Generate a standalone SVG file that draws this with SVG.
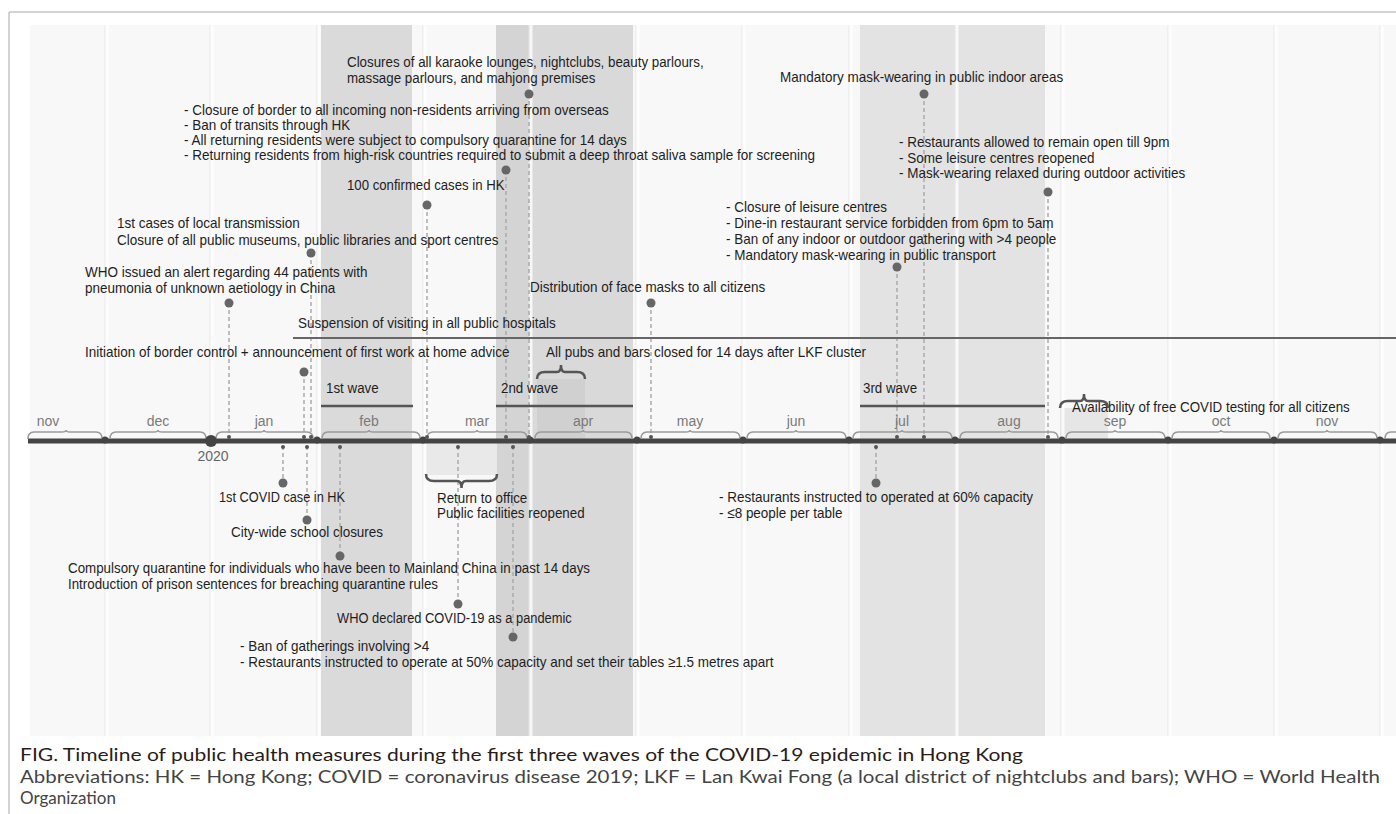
<svg xmlns="http://www.w3.org/2000/svg" width="1396" height="814" viewBox="0 0 1396 814">
<style>
.t{font-family:"Liberation Sans",Arial,sans-serif;font-size:15px;fill:#1e1e1e}
.m{font-family:"Liberation Sans",Arial,sans-serif;font-size:14px;fill:#7a7a7a;text-anchor:middle}
.cap{font-family:Lato,"Open Sans","Liberation Sans",sans-serif;font-size:17px;fill:#2a1c18}
.abb{font-family:Lato,"Open Sans","Liberation Sans",sans-serif;font-size:17px;fill:#444444}
.dash{stroke:#ababab;stroke-width:1.5;stroke-dasharray:4 3;fill:none}
.dot{fill:#666}
.tick{fill:#555}
.mb{fill:none;stroke:#9a9a9a;stroke-width:1.5}
.br{fill:none;stroke:#555;stroke-width:2.5}
.wave{stroke:#555;stroke-width:2.5}
.grid{stroke:#ffffff;stroke-width:3;opacity:0.8}
.gridl{stroke:#e6e6e6;stroke-width:1}
</style>
<rect x="0" y="0" width="1396" height="814" fill="#ffffff"/>
<line x1="9" y1="12" x2="1396" y2="12" stroke="#c4c4c4" stroke-width="1.5"/>
<line x1="9" y1="12" x2="9" y2="814" stroke="#c4c4c4" stroke-width="1.5"/>
<g id="background">
<rect x="30" y="25" width="1366" height="711" fill="#f8f8f8"/>
<rect x="321" y="25" width="91" height="711" fill="#dadada"/>
<rect x="496" y="25" width="137" height="711" fill="#d9d9d9"/>
<rect x="496" y="25" width="34" height="711" fill="#d4d4d4"/>
<rect x="860" y="25" width="185" height="711" fill="#e3e3e3"/>
<rect x="537" y="379" width="48" height="60" fill="#000" opacity="0.04"/>
<rect x="1060" y="408" width="48" height="31" fill="#e6e6e6"/>
<rect x="426" y="443" width="71" height="32" fill="#e9e9e9"/>
<g>
<line class="gridl" x1="105" y1="25" x2="105" y2="736"/><line class="grid" x1="107" y1="25" x2="107" y2="736"/>
<line class="gridl" x1="210" y1="25" x2="210" y2="736"/><line class="grid" x1="212" y1="25" x2="212" y2="736"/>
<line class="gridl" x1="317" y1="25" x2="317" y2="736"/><line class="grid" x1="319" y1="25" x2="319" y2="736"/>
<line class="gridl" x1="423" y1="25" x2="423" y2="736"/><line class="grid" x1="425" y1="25" x2="425" y2="736"/>
<line class="gridl" x1="529" y1="25" x2="529" y2="736"/><line class="grid" x1="531" y1="25" x2="531" y2="736"/>
<line class="gridl" x1="636" y1="25" x2="636" y2="736"/><line class="grid" x1="638" y1="25" x2="638" y2="736"/>
<line class="gridl" x1="742" y1="25" x2="742" y2="736"/><line class="grid" x1="744" y1="25" x2="744" y2="736"/>
<line class="gridl" x1="849" y1="25" x2="849" y2="736"/><line class="grid" x1="851" y1="25" x2="851" y2="736"/>
<line class="gridl" x1="955" y1="25" x2="955" y2="736"/><line class="grid" x1="957" y1="25" x2="957" y2="736"/>
<line class="gridl" x1="1061" y1="25" x2="1061" y2="736"/><line class="grid" x1="1063" y1="25" x2="1063" y2="736"/>
<line class="gridl" x1="1168" y1="25" x2="1168" y2="736"/><line class="grid" x1="1170" y1="25" x2="1170" y2="736"/>
<line class="gridl" x1="1274" y1="25" x2="1274" y2="736"/><line class="grid" x1="1276" y1="25" x2="1276" y2="736"/>
<line class="gridl" x1="1380" y1="25" x2="1380" y2="736"/><line class="grid" x1="1382" y1="25" x2="1382" y2="736"/>
</g>
</g>
<g id="connectors">
<line class="dash" x1="229" y1="303" x2="229" y2="437"/>
<line class="dash" x1="311" y1="253" x2="311" y2="437"/>
<line class="dash" x1="304" y1="372" x2="304" y2="437"/>
<line class="dash" x1="427" y1="205" x2="427" y2="437"/>
<line class="dash" x1="506" y1="170" x2="506" y2="437"/>
<line class="dash" x1="529" y1="94" x2="529" y2="437"/>
<line class="dash" x1="651" y1="303" x2="651" y2="437"/>
<line class="dash" x1="897" y1="267" x2="897" y2="437"/>
<line class="dash" x1="924" y1="94" x2="924" y2="437"/>
<line class="dash" x1="1048" y1="192" x2="1048" y2="437"/>
<line class="dash" x1="283" y1="446" x2="283" y2="483"/>
<line class="dash" x1="307" y1="446" x2="307" y2="520"/>
<line class="dash" x1="340" y1="446" x2="340" y2="556"/>
<line class="dash" x1="458" y1="446" x2="458" y2="604"/>
<line class="dash" x1="513" y1="446" x2="513" y2="637"/>
<line class="dash" x1="876" y1="446" x2="876" y2="483"/>
</g>
<g id="axis">
<line x1="28" y1="441" x2="1396" y2="441" stroke="#444" stroke-width="5"/>
<g class="mb">
<path d="M28 439 Q28 432 34 432 L62 432 Q66 432 66 430 Q66 432 70 432 L96 432 Q102 432 102 439"/>
<path d="M110 439 Q110 432 116 432 L154 432 Q158 432 158 430 Q158 432 162 432 L200 432 Q206 432 206 439"/>
<path d="M216 439 Q216 432 222 432 L260 432 Q264 432 264 430 Q264 432 268 432 L307 432 Q313 432 313 439"/>
<path d="M322 439 Q322 432 328 432 L365 432 Q369 432 369 430 Q369 432 373 432 L414 432 Q420 432 420 439"/>
<path d="M427 439 Q427 432 433 432 L473 432 Q477 432 477 430 Q477 432 481 432 L521 432 Q527 432 527 439"/>
<path d="M535 439 Q535 432 541 432 L579 432 Q583 432 583 430 Q583 432 587 432 L626 432 Q632 432 632 439"/>
<path d="M641 439 Q641 432 647 432 L686 432 Q690 432 690 430 Q690 432 694 432 L734 432 Q740 432 740 439"/>
<path d="M747 439 Q747 432 753 432 L792 432 Q796 432 796 430 Q796 432 800 432 L840 432 Q846 432 846 439"/>
<path d="M853 439 Q853 432 859 432 L898 432 Q902 432 902 430 Q902 432 906 432 L946 432 Q952 432 952 439"/>
<path d="M960 439 Q960 432 966 432 L1005 432 Q1009 432 1009 430 Q1009 432 1013 432 L1052 432 Q1058 432 1058 439"/>
<path d="M1066 439 Q1066 432 1072 432 L1111 432 Q1115 432 1115 430 Q1115 432 1119 432 L1159 432 Q1165 432 1165 439"/>
<path d="M1172 439 Q1172 432 1178 432 L1217 432 Q1221 432 1221 430 Q1221 432 1225 432 L1264 432 Q1270 432 1270 439"/>
<path d="M1278 439 Q1278 432 1284 432 L1323 432 Q1327 432 1327 430 Q1327 432 1331 432 L1371 432 Q1377 432 1377 439"/>
<path d="M1385 439 Q1385 432 1391 432 L1396 432"/>
</g>
<text class="m" x="48" y="426">nov</text>
<text class="m" x="158" y="426">dec</text>
<text class="m" x="264" y="426">jan</text>
<text class="m" x="369" y="426">feb</text>
<text class="m" x="477" y="426">mar</text>
<text class="m" x="583" y="426">apr</text>
<text class="m" x="690" y="426">may</text>
<text class="m" x="796" y="426">jun</text>
<text class="m" x="902" y="426">jul</text>
<text class="m" x="1009" y="426">aug</text>
<text class="m" x="1115" y="426">sep</text>
<text class="m" x="1221" y="426">oct</text>
<text class="m" x="1327" y="426">nov</text>
<circle cx="211" cy="441" r="6" fill="#444"/>
<text class="m" x="213" y="461" style="fill:#666">2020</text>
<g fill="#444">
<circle cx="105" cy="440" r="3.5"/><circle cx="317" cy="440" r="3.5"/><circle cx="423" cy="440" r="3.5"/>
<circle cx="530" cy="440" r="3.5"/><circle cx="637" cy="440" r="3.5"/><circle cx="743" cy="440" r="3.5"/>
<circle cx="849" cy="440" r="3.5"/><circle cx="955" cy="440" r="3.5"/><circle cx="1062" cy="440" r="3.5"/>
<circle cx="1168" cy="440" r="3.5"/><circle cx="1274" cy="440" r="3.5"/><circle cx="1380" cy="440" r="3.5"/>
</g>
<g class="tick">
<circle cx="229" cy="437" r="2"/><circle cx="311" cy="437" r="2"/><circle cx="304" cy="437" r="2"/>
<circle cx="427" cy="437" r="2"/><circle cx="506" cy="437" r="2"/><circle cx="529" cy="437" r="2"/>
<circle cx="651" cy="437" r="2"/><circle cx="897" cy="437" r="2"/><circle cx="924" cy="437" r="2"/>
<circle cx="1048" cy="437" r="2"/>
<circle cx="283" cy="447" r="2"/><circle cx="307" cy="447" r="2"/><circle cx="340" cy="447" r="2"/>
<circle cx="458" cy="447" r="2"/><circle cx="513" cy="447" r="2"/><circle cx="876" cy="447" r="2"/>
</g>
</g>
<g id="wave1"><text class="t" transform="translate(326 393) scale(0.89 1)">1st wave</text><line class="wave" x1="321" y1="406" x2="413" y2="406"/></g>
<g id="wave2"><text class="t" transform="translate(501 393) scale(0.89 1)">2nd wave</text><line class="wave" x1="496" y1="406" x2="633" y2="406"/></g>
<g id="wave3"><text class="t" transform="translate(863 393) scale(0.89 1)">3rd wave</text><line class="wave" x1="860" y1="406" x2="1045" y2="406"/></g>
<g id="ev-karaoke">
<text class="t" transform="translate(347 67) scale(0.89 1)">Closures of all karaoke lounges, nightclubs, beauty parlours,</text>
<text class="t" transform="translate(347 83) scale(0.89 1)">massage parlours, and mahjong premises</text>
<circle class="dot" cx="529" cy="94" r="4.5"/>
</g>
<g id="ev-mask-indoor">
<text class="t" transform="translate(780 82) scale(0.9 1)">Mandatory mask-wearing in public indoor areas</text>
<circle class="dot" cx="924" cy="94" r="4.5"/>
</g>
<g id="ev-border-closure">
<text class="t" transform="translate(184 115) scale(0.9 1)">- Closure of border to all incoming non-residents arriving from overseas</text>
<text class="t" transform="translate(184 130) scale(0.9 1)">- Ban of transits through HK</text>
<text class="t" transform="translate(184 145) scale(0.9 1)">- All returning residents were subject to compulsory quarantine for 14 days</text>
<text class="t" transform="translate(184 160) scale(0.9 1)">- Returning residents from high-risk countries required to submit a deep throat saliva sample for screening</text>
<circle class="dot" cx="506" cy="170" r="4.5"/>
</g>
<g id="ev-restaurants-9pm">
<text class="t" transform="translate(899 147) scale(0.9 1)">- Restaurants allowed to remain open till 9pm</text>
<text class="t" transform="translate(899 163) scale(0.9 1)">- Some leisure centres reopened</text>
<text class="t" transform="translate(899 178) scale(0.9 1)">- Mask-wearing relaxed during outdoor activities</text>
<circle class="dot" cx="1048" cy="192" r="4.5"/>
</g>
<g id="ev-100-cases">
<text class="t" transform="translate(347 190) scale(0.88 1)">100 confirmed cases in HK</text>
<circle class="dot" cx="427" cy="205" r="4.5"/>
</g>
<g id="ev-leisure-closure">
<text class="t" transform="translate(726 212) scale(0.9 1)">- Closure of leisure centres</text>
<text class="t" transform="translate(726 228) scale(0.9 1)">- Dine-in restaurant service forbidden from 6pm to 5am</text>
<text class="t" transform="translate(726 244) scale(0.9 1)">- Ban of any indoor or outdoor gathering with &gt;4 people</text>
<text class="t" transform="translate(726 260) scale(0.9 1)">- Mandatory mask-wearing in public transport</text>
<circle class="dot" cx="897" cy="267" r="4.5"/>
</g>
<g id="ev-local-transmission">
<text class="t" transform="translate(117 228) scale(0.9 1)">1st cases of local transmission</text>
<text class="t" transform="translate(117 245) scale(0.9 1)">Closure of all public museums, public libraries and sport centres</text>
<circle class="dot" cx="311" cy="253" r="4.5"/>
</g>
<g id="ev-who-alert">
<text class="t" transform="translate(85 277) scale(0.9 1)">WHO issued an alert regarding 44 patients with</text>
<text class="t" transform="translate(85 293) scale(0.9 1)">pneumonia of unknown aetiology in China</text>
<circle class="dot" cx="229" cy="303" r="4.5"/>
</g>
<g id="ev-face-masks">
<text class="t" transform="translate(530 292) scale(0.9 1)">Distribution of face masks to all citizens</text>
<circle class="dot" cx="651" cy="303" r="4.5"/>
</g>
<g id="ev-hospital-visiting">
<text class="t" transform="translate(298 328) scale(0.9 1)">Suspension of visiting in all public hospitals</text>
<line x1="293" y1="338" x2="1396" y2="338" stroke="#666" stroke-width="2"/>
</g>
<g id="ev-border-control">
<text class="t" transform="translate(85 357) scale(0.9 1)">Initiation of border control + announcement of first work at home advice</text>
<circle class="dot" cx="304" cy="372" r="4.5"/>
</g>
<g id="ev-pubs-closed">
<text class="t" transform="translate(546 357) scale(0.9 1)">All pubs and bars closed for 14 days after LKF cluster</text>
<path class="br" d="M537 379 Q537 372 545 372 L557 372 Q561 372 561 365 Q561 372 565 372 L577 372 Q585 372 585 379"/>
</g>
<g id="ev-free-testing">
<text class="t" transform="translate(1072 412) scale(0.89 1)">Availability of free COVID testing for all citizens</text>
<path class="br" d="M1060 408 Q1060 401 1068 401 L1080 401 Q1084 401 1084 394 Q1084 401 1088 401 L1100 401 Q1108 401 1108 408"/>
</g>
<g id="ev-first-case">
<circle class="dot" cx="283" cy="483" r="4.5"/>
<text class="t" transform="translate(219 502) scale(0.85 1)">1st COVID case in HK</text>
</g>
<g id="ev-school-closures">
<circle class="dot" cx="307" cy="520" r="4.5"/>
<text class="t" transform="translate(231 537) scale(0.9 1)">City-wide school closures</text>
</g>
<g id="ev-quarantine-mainland">
<circle class="dot" cx="340" cy="556" r="4.5"/>
<text class="t" transform="translate(68 573) scale(0.89 1)">Compulsory quarantine for individuals who have been to Mainland China in past 14 days</text>
<text class="t" transform="translate(68 589) scale(0.89 1)">Introduction of prison sentences for breaching quarantine rules</text>
</g>
<g id="ev-return-office">
<path class="br" d="M426 474 Q426 481 434 481 L457 481 Q461.5 481 461.5 488 Q461.5 481 466 481 L489 481 Q497 481 497 474"/>
<text class="t" transform="translate(437 503) scale(0.89 1)">Return to office</text>
<text class="t" transform="translate(437 518) scale(0.89 1)">Public facilities reopened</text>
</g>
<g id="ev-restaurants-60">
<circle class="dot" cx="876" cy="483" r="4.5"/>
<text class="t" transform="translate(719 502) scale(0.9 1)">- Restaurants instructed to operated at 60% capacity</text>
<text class="t" transform="translate(719 518) scale(0.9 1)">- ≤8 people per table</text>
</g>
<g id="ev-pandemic">
<circle class="dot" cx="458" cy="604" r="4.5"/>
<text class="t" transform="translate(337 623) scale(0.86 1)">WHO declared COVID-19 as a pandemic</text>
</g>
<g id="ev-gatherings-4">
<circle class="dot" cx="513" cy="637" r="4.5"/>
<text class="t" transform="translate(240 651) scale(0.9 1)">- Ban of gatherings involving &gt;4</text>
<text class="t" transform="translate(240 667) scale(0.9 1)">- Restaurants instructed to operate at 50% capacity and set their tables ≥1.5 metres apart</text>
</g>
<g id="caption">
<text class="cap" x="20" y="761" textLength="1003" lengthAdjust="spacingAndGlyphs">FIG. Timeline of public health measures during the first three waves of the COVID-19 epidemic in Hong Kong</text>
<text class="abb" x="20" y="783" textLength="1360" lengthAdjust="spacingAndGlyphs">Abbreviations: HK = Hong Kong; COVID = coronavirus disease 2019; LKF = Lan Kwai Fong (a local district of nightclubs and bars); WHO = World Health</text>
<text class="abb" x="20" y="804">Organization</text>
</g>
</svg>
